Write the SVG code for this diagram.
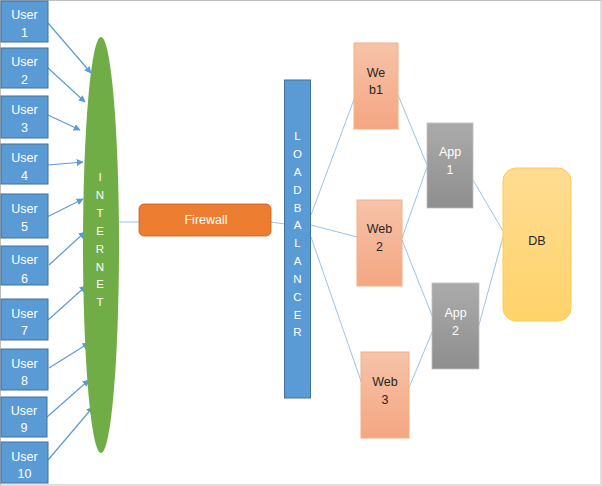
<svg xmlns="http://www.w3.org/2000/svg" width="602" height="486" viewBox="0 0 602 486">
<defs>
<style>
.user{fill:#5B9BD5;stroke:#41719C;stroke-width:1}
.wt{fill:#fff;font-family:"Liberation Sans",Arial,sans-serif;font-size:12.5px;text-anchor:middle}
.dt{fill:#262626;font-family:"Liberation Sans",Arial,sans-serif;font-size:12.5px;text-anchor:middle}
.lt{fill:#fff;font-family:"Liberation Sans",Arial,sans-serif;font-size:11.5px;text-anchor:middle}
.arr{stroke:#5B9BD5;stroke-width:1.2;fill:none;marker-end:url(#ah)}
.ln{stroke:#9DC3E6;stroke-width:1;fill:none}
.web{fill:url(#gWeb);stroke:#F4B183;stroke-width:1}
.app{fill:url(#gApp);stroke:#BFBFBF;stroke-width:0.8}
</style>
<marker id="ah" viewBox="0 0 10 10" refX="9" refY="5" markerWidth="7" markerHeight="7" markerUnits="userSpaceOnUse" orient="auto">
<path d="M0,0 L10,5 L0,10 z" fill="#5B9BD5"/>
</marker>
<linearGradient id="gWeb" x1="0" y1="0" x2="0" y2="1">
<stop offset="0" stop-color="#F7C3A8"/>
<stop offset="1" stop-color="#F4A682"/>
</linearGradient>
<linearGradient id="gApp" x1="0" y1="0" x2="0" y2="1">
<stop offset="0" stop-color="#ABABAB"/>
<stop offset="1" stop-color="#8E8E8E"/>
</linearGradient>
<linearGradient id="gDB" x1="0" y1="0" x2="0" y2="1">
<stop offset="0" stop-color="#FFDC92"/>
<stop offset="1" stop-color="#FFD36A"/>
</linearGradient>
<clipPath id="c6"><rect x="1" y="246" width="47" height="39"/></clipPath>
</defs>
<rect x="0.5" y="0.5" width="600.5" height="484.5" fill="#fff" stroke="#BFBFBF" stroke-width="1"/>

<g id="connectors">
<line class="arr" x1="48" y1="23" x2="91" y2="73"/>
<line class="arr" x1="48" y1="68" x2="85" y2="102"/>
<line class="arr" x1="48" y1="115" x2="80" y2="130"/>
<line class="arr" x1="48" y1="165" x2="83" y2="162"/>
<line class="arr" x1="47" y1="217" x2="83" y2="199"/>
<line class="arr" x1="49" y1="265" x2="85" y2="232"/>
<line class="arr" x1="48" y1="320" x2="86" y2="286"/>
<line class="arr" x1="49" y1="368" x2="89" y2="343"/>
<line class="arr" x1="47" y1="417" x2="89" y2="380"/>
<line class="arr" x1="48" y1="460" x2="93" y2="407"/>
<line class="ln" x1="118" y1="222" x2="139" y2="222"/>
<line class="ln" x1="271" y1="222" x2="285" y2="224"/>
<line class="ln" x1="311" y1="215" x2="356" y2="94"/>
<line class="ln" x1="311" y1="225" x2="357" y2="237"/>
<line class="ln" x1="311" y1="237" x2="362" y2="384"/>
<line class="ln" x1="398" y1="95" x2="427" y2="165"/>
<line class="ln" x1="402" y1="238" x2="427" y2="167"/>
<line class="ln" x1="402" y1="240" x2="433" y2="318"/>
<line class="ln" x1="408" y1="390" x2="433" y2="330"/>
<line class="ln" x1="473" y1="180" x2="503" y2="231"/>
<line class="ln" x1="479" y1="325" x2="503" y2="237"/>
</g>

<g id="user1"><rect class="user" x="1" y="1" width="47" height="41"/><text class="wt" x="24.5" y="19">User</text><text class="wt" x="24.5" y="37">1</text></g>
<g id="user2"><rect class="user" x="1" y="48" width="47" height="40"/><text class="wt" x="24.5" y="66">User</text><text class="wt" x="24.5" y="84">2</text></g>
<g id="user3"><rect class="user" x="1" y="96" width="47" height="42"/><text class="wt" x="24.5" y="114">User</text><text class="wt" x="24.5" y="132">3</text></g>
<g id="user4"><rect class="user" x="1" y="144" width="47" height="40"/><text class="wt" x="24.5" y="162">User</text><text class="wt" x="24.5" y="180">4</text></g>
<g id="user5"><rect class="user" x="1" y="194" width="47" height="44"/><text class="wt" x="24.5" y="213">User</text><text class="wt" x="24.5" y="231">5</text></g>
<g id="user6"><rect class="user" x="1" y="246" width="47" height="39"/><g clip-path="url(#c6)"><text class="wt" x="24.5" y="264">User</text><text class="wt" x="24.5" y="283">6</text></g></g>
<g id="user7"><rect class="user" x="1" y="299" width="47" height="41"/><text class="wt" x="24.5" y="318">User</text><text class="wt" x="24.5" y="335">7</text></g>
<g id="user8"><rect class="user" x="1" y="349" width="47" height="41"/><text class="wt" x="24.5" y="368">User</text><text class="wt" x="24.5" y="385">8</text></g>
<g id="user9"><rect class="user" x="1" y="397" width="46" height="40"/><text class="wt" x="24" y="415">User</text><text class="wt" x="24" y="432">9</text></g>
<g id="user10"><rect class="user" x="1" y="442" width="47" height="41"/><text class="wt" x="24.5" y="461">User</text><text class="wt" x="24.5" y="478">10</text></g>

<g id="internet">
<ellipse cx="101" cy="245" rx="18" ry="208" fill="#70AD47"/>
<text class="lt" x="100" y="181">I</text>
<text class="lt" x="100" y="199">N</text>
<text class="lt" x="100" y="217">T</text>
<text class="lt" x="100" y="235">E</text>
<text class="lt" x="100" y="253">R</text>
<text class="lt" x="100" y="271">N</text>
<text class="lt" x="100" y="288">E</text>
<text class="lt" x="100" y="306">T</text>
</g>

<g id="firewall">
<rect x="139" y="204" width="132" height="32" rx="5" fill="#ED7D31" stroke="#C55A11" stroke-width="0.8"/>
<text class="wt" x="206" y="224">Firewall</text>
</g>

<g id="loadbalancer">
<rect x="284.5" y="80" width="26" height="318" fill="#5B9BD5" stroke="#41719C" stroke-width="1"/>
<text class="lt" x="297.5" y="140">L</text>
<text class="lt" x="297.5" y="158">O</text>
<text class="lt" x="297.5" y="176">A</text>
<text class="lt" x="297.5" y="194">D</text>
<text class="lt" x="297.5" y="212">B</text>
<text class="lt" x="297.5" y="229">A</text>
<text class="lt" x="297.5" y="247">L</text>
<text class="lt" x="297.5" y="265">A</text>
<text class="lt" x="297.5" y="283">N</text>
<text class="lt" x="297.5" y="301">C</text>
<text class="lt" x="297.5" y="319">E</text>
<text class="lt" x="297.5" y="336">R</text>
</g>

<g id="web1"><rect class="web" x="354" y="43" width="44" height="86"/><text class="dt" x="376" y="77">We</text><text class="dt" x="376" y="94">b1</text></g>
<g id="web2"><rect class="web" x="357" y="200" width="45" height="86"/><text class="dt" x="379.5" y="233">Web</text><text class="dt" x="379.5" y="251">2</text></g>
<g id="web3"><rect class="web" x="361" y="352" width="48" height="86"/><text class="dt" x="385" y="386">Web</text><text class="dt" x="385" y="404">3</text></g>

<g id="app1"><rect class="app" x="427" y="123" width="46" height="85"/><text class="wt" x="450" y="156">App</text><text class="wt" x="450" y="174">1</text></g>
<g id="app2"><rect class="app" x="432" y="283" width="47" height="86"/><text class="wt" x="455.5" y="317">App</text><text class="wt" x="455.5" y="335">2</text></g>

<g id="db">
<rect x="503" y="168" width="68" height="153" rx="13" fill="url(#gDB)" stroke="#FFCB52" stroke-width="1"/>
<text class="dt" x="537" y="245">DB</text>
</g>
</svg>
